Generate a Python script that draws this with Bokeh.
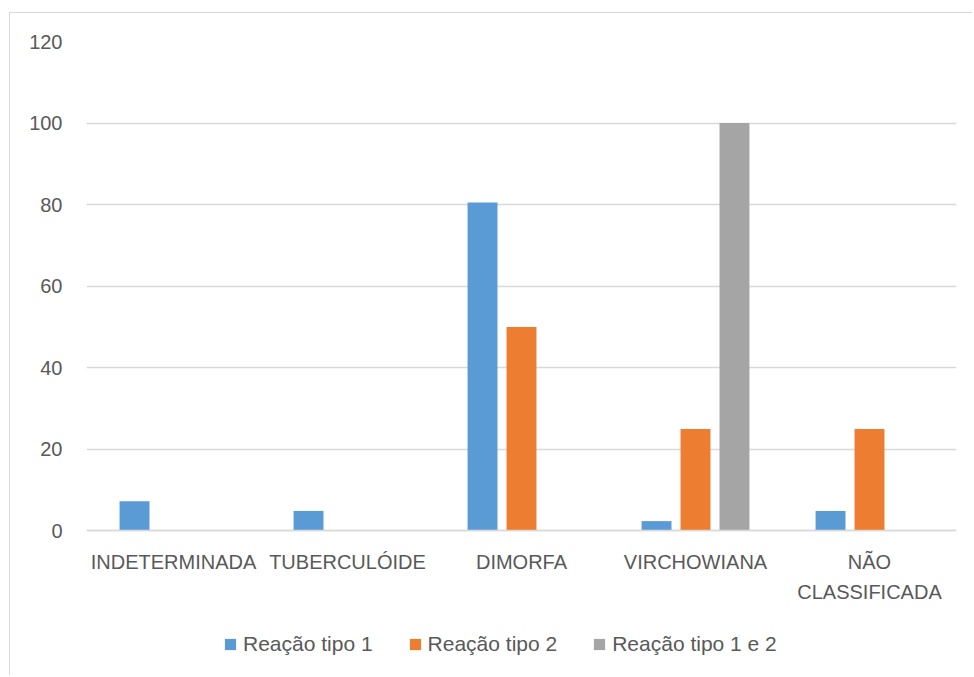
from bokeh.plotting import figure
from bokeh.models import Range1d, Legend, LegendItem, ColumnDataSource, FactorRange
from bokeh.transform import dodge
from bokeh.embed import file_html
from bokeh.resources import INLINE

categories = ["INDETERMINADA", "TUBERCULÓIDE", "DIMORFA", "VIRCHOWIANA", "NÃO\nCLASSIFICADA"]
reacao_tipo_1 = [7.3, 4.9, 80.5, 2.4, 4.9]
reacao_tipo_2 = [0, 0, 50, 25, 25]
reacao_tipo_1_e_2 = [0, 0, 0, 100, 0]
series_names = ["Reação tipo 1", "Reação tipo 2", "Reação tipo 1 e 2"]
y_ticks = [0, 20, 40, 60, 80, 100, 120]

colors = ["#5b9bd5", "#ed7d31", "#a5a5a5"]
FONT = "Liberation Sans"
TXT = "#595959"

source = ColumnDataSource(dict(cat=categories, s1=reacao_tipo_1, s2=reacao_tipo_2, s3=reacao_tipo_1_e_2))

# y range extends below 0 so that the category labels and legend sit inside the frame
p = figure(x_range=FactorRange(*categories), y_range=Range1d(-35.7, 120),
           width=963, height=663, output_backend="svg", toolbar_location=None,
           min_border_left=76, min_border_right=17, min_border_top=28, min_border_bottom=0)
p.margin = (12, 0, 0, 9)
p.styles = {"border-left": "1.5px solid #d9d9d9", "border-top": "1.5px solid #d9d9d9"}

step = 0.224
bw = 0.172
renderers = []
for i, key in enumerate(["s1", "s2", "s3"]):
    r = p.vbar(x=dodge("cat", (i - 1) * step, range=p.x_range), top=key, width=bw,
               source=source, fill_color=colors[i], line_color=None)
    renderers.append(r)

p.outline_line_color = None
p.background_fill_color = "white"
p.border_fill_color = "white"

p.xgrid.grid_line_color = None
p.ygrid.grid_line_color = "#d9d9d9"
p.ygrid.grid_line_width = 1.3
p.yaxis.ticker = y_ticks
p.yaxis.axis_line_color = None
p.yaxis.major_label_standoff = 24
p.xaxis.fixed_location = 0
p.xaxis.axis_line_color = "#d9d9d9"
p.xaxis.axis_line_width = 1.3
p.xaxis.major_label_standoff = 20
p.xaxis.major_label_text_line_height = 1.35
for ax in (p.xaxis, p.yaxis):
    ax.major_tick_line_color = None
    ax.minor_tick_line_color = None
    ax.major_tick_out = 0
    ax.minor_tick_out = 0
    ax.major_label_text_font = FONT
    ax.major_label_text_font_size = "20px"
    ax.major_label_text_color = TXT

legend = Legend(items=[LegendItem(label=series_names[i], renderers=[renderers[i]]) for i in range(3)],
                orientation="horizontal", location=(137, 20),
                border_line_color=None, background_fill_alpha=0,
                padding=0, margin=0, spacing=35, label_standoff=6,
                glyph_width=14, glyph_height=14,
                label_text_font=FONT, label_text_font_size="21px", label_text_color=TXT)
p.add_layout(legend, "center")

open("out.html", "w").write(file_html(p, INLINE))
